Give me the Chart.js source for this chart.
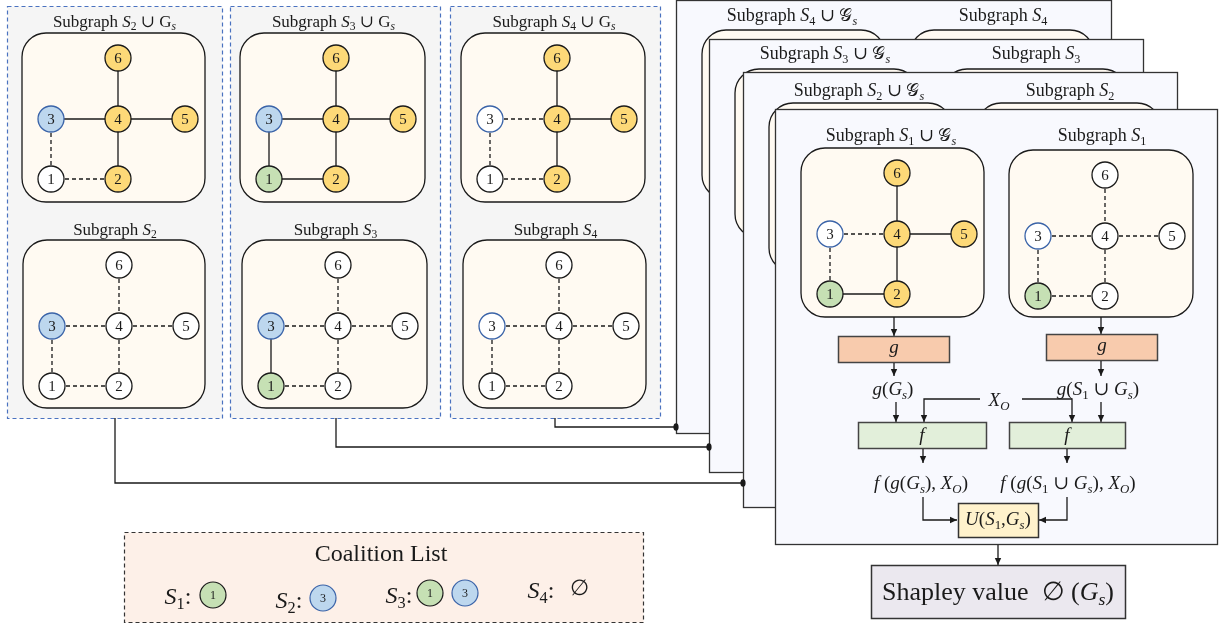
<!DOCTYPE html>
<html>
<head>
<meta charset="utf-8">
<script src="https://cdn.jsdelivr.net/npm/chart.js@4.4.1/dist/chart.umd.min.js"></script>
<style>
  html, body { margin: 0; padding: 0; background: #fff; }
  canvas { display: block; }
</style>
</head>
<body>
<canvas id="diagram" width="1222" height="628"></canvas>
<script>
// ---- graph data ----
const nodeIds = [1, 2, 3, 4, 5, 6];
const edgeList = [[6, 4], [3, 4], [4, 5], [4, 2], [3, 1], [1, 2]];
const explanationNodes = [2, 4, 5, 6];          // G_s
const coalitionNames = ["1", "2", "3", "4"];    // S_1 .. S_4
const coalitionMembers = [[1], [3], [1, 3], []];
const panelCoalitions = [1, 2, 3];              // left panels: S2, S3, S4
const frameCoalitions = [3, 2, 1, 0];           // stacked frames, back to front

// ---- layout / style ----
const W = 1222, H = 628;
const INK = "#1a1a1a";
const YELLOW = "#fdd978";
const WHITE = "#ffffff";
const BLUE_EDGE = "#3a63a8";
const MEMBER_FILL = { 1: "#c6e0b4", 3: "#bdd7ee" };
const BOX_FILL = "#fffaf2";
const SERIF = "'Liberation Serif', 'DejaVu Serif', serif";

// node offsets inside a rounded graph box
const NODE_POS = { 6: [96, 25], 3: [29, 86], 4: [96, 86], 5: [163, 86], 1: [29, 146], 2: [96, 146] };

const panels = [
  { x: 7, y: 6, w: 215, h: 412, up: [22, 33, 183, 169], low: [23, 240, 182, 168] },
  { x: 230, y: 6, w: 210, h: 412, up: [240, 33, 185, 169], low: [242, 240, 185, 168] },
  { x: 450, y: 6, w: 210, h: 412, up: [461, 33, 184, 169], low: [463, 240, 183, 168] }
];
const frames = [
  { x: 676, y: 0, w: 435, h: 433, ty: 15, by: 30 },
  { x: 709, y: 39, w: 434, h: 433, ty: 14, by: 30 },
  { x: 743, y: 72, w: 434, h: 435, ty: 18, by: 31 },
  { x: 775, y: 109, w: 442, h: 435, ty: 26, by: 39 }
];

// which graph boxes get drawn with nodes
const graphs = [];
panels.forEach((p, i) => {
  const c = panelCoalitions[i];
  graphs.push({ c, gs: true, box: p.up, ty: 21, script: false });
  graphs.push({ c, gs: false, box: p.low, ty: 229, script: false });
});
const front = frames[3];
graphs.push({ c: frameCoalitions[3], gs: true, box: [front.x + 26, front.y + 39, 183, 169], ty: front.y + 26, script: true });
graphs.push({ c: frameCoalitions[3], gs: false, box: [front.x + 234, front.y + 41, 184, 167], ty: front.y + 26, script: true });

function titleParts(c, gs, script) {
  const parts = [["Subgraph ", "r"], ["S", "i"], [coalitionNames[c], "rs"]];
  if (gs) {
    parts.push([" \u222A ", "r"]);
    parts.push(script ? ["\uD835\uDCA2", "r"] : ["G", "r"]);
    parts.push(["s", "is"]);
  }
  return parts;
}

// ---- datasets ----
const datasets = [];
graphs.forEach(g => {
  const members = coalitionMembers[g.c];
  const inSet = n => members.includes(n) || (g.gs && explanationNodes.includes(n));
  const pos = n => ({ x: g.box[0] + NODE_POS[n][0], y: g.box[1] + NODE_POS[n][1] });
  edgeList.forEach(([a, b]) => {
    const solid = inSet(a) && inSet(b);
    datasets.push({
      type: "line", data: [pos(a), pos(b)], borderColor: INK, borderWidth: 1.3,
      borderDash: solid ? [] : [4, 3], pointRadius: 0, showLine: true, fill: false, clip: false, order: 2
    });
  });
  datasets.push({
    type: "scatter", data: nodeIds.map(pos), labels: nodeIds.map(String), labelSize: 15,
    pointRadius: 13, pointHoverRadius: 13, pointBorderWidth: 1.3,
    pointBackgroundColor: nodeIds.map(n => members.includes(n) ? MEMBER_FILL[n] : (g.gs && explanationNodes.includes(n) ? YELLOW : WHITE)),
    pointBorderColor: nodeIds.map(n => n === 3 ? BLUE_EDGE : INK),
    clip: false, order: 1
  });
});

// coalition list chips
const coalitionLabelPos = [[178, 596], [289, 600], [399, 595], [541, 590]];
const coalitionChipPos = [[[213, 595]], [[323, 598]], [[430, 593], [465, 593]], []];
const chipPts = [], chipLabels = [], chipFill = [], chipBorder = [];
coalitionMembers.forEach((m, i) => m.forEach((n, k) => {
  chipPts.push({ x: coalitionChipPos[i][k][0], y: coalitionChipPos[i][k][1] });
  chipLabels.push(String(n));
  chipFill.push(MEMBER_FILL[n]);
  chipBorder.push(n === 3 ? BLUE_EDGE : INK);
}));
datasets.push({
  type: "scatter", data: chipPts, labels: chipLabels, labelSize: 12,
  pointRadius: 13, pointHoverRadius: 13, pointBorderWidth: 1.2,
  pointBackgroundColor: chipFill, pointBorderColor: chipBorder, clip: false, order: 1
});

// ---- drawing helpers ----
function richText(ctx, parts, cx, cy, size, align) {
  const fontFor = st => {
    const sub = st.length > 1;
    const sz = sub ? size * 0.68 : size;
    return (st[0] === "i" ? "italic " : "") + sz.toFixed(1) + "px " + SERIF;
  };
  let total = 0;
  const widths = parts.map(([t, st]) => {
    ctx.font = fontFor(st);
    const w = ctx.measureText(t).width;
    total += w;
    return w;
  });
  let x = align === "left" ? cx : cx - total / 2;
  const base = cy + size * 0.33;
  ctx.textAlign = "left";
  ctx.textBaseline = "alphabetic";
  ctx.fillStyle = INK;
  parts.forEach(([t, st], i) => {
    ctx.font = fontFor(st);
    ctx.fillText(t, x, st.length > 1 ? base + size * 0.2 : base);
    x += widths[i];
  });
}

function roundBox(ctx, x, y, w, h, r, fill, stroke, lw) {
  ctx.beginPath();
  ctx.moveTo(x + r, y);
  ctx.arcTo(x + w, y, x + w, y + h, r);
  ctx.arcTo(x + w, y + h, x, y + h, r);
  ctx.arcTo(x, y + h, x, y, r);
  ctx.arcTo(x, y, x + w, y, r);
  ctx.closePath();
  ctx.fillStyle = fill;
  ctx.fill();
  ctx.lineWidth = lw;
  ctx.strokeStyle = stroke;
  ctx.stroke();
}

function rect(ctx, x, y, w, h, fill, stroke, lw, dash) {
  ctx.setLineDash(dash || []);
  ctx.fillStyle = fill;
  ctx.fillRect(x, y, w, h);
  ctx.lineWidth = lw;
  ctx.strokeStyle = stroke;
  ctx.strokeRect(x, y, w, h);
  ctx.setLineDash([]);
}

function path(ctx, pts, arrow) {
  ctx.strokeStyle = INK;
  ctx.lineWidth = 1.3;
  ctx.beginPath();
  ctx.moveTo(pts[0][0], pts[0][1]);
  for (let i = 1; i < pts.length; i++) ctx.lineTo(pts[i][0], pts[i][1]);
  ctx.stroke();
  if (arrow) {
    const [x1, y1] = pts[pts.length - 2], [x2, y2] = pts[pts.length - 1];
    const a = Math.atan2(y2 - y1, x2 - x1), L = 7, Wd = 3.2;
    ctx.fillStyle = INK;
    ctx.beginPath();
    ctx.moveTo(x2, y2);
    ctx.lineTo(x2 - L * Math.cos(a) + Wd * Math.sin(a), y2 - L * Math.sin(a) - Wd * Math.cos(a));
    ctx.lineTo(x2 - L * Math.cos(a) - Wd * Math.sin(a), y2 - L * Math.sin(a) + Wd * Math.cos(a));
    ctx.closePath();
    ctx.fill();
  }
}

function dot(ctx, x, y) {
  ctx.fillStyle = INK;
  ctx.beginPath();
  ctx.ellipse(x, y, 2.6, 3.8, 0, 0, Math.PI * 2);
  ctx.fill();
}

const diagramPlugin = {
  id: "diagram",
  beforeDatasetsDraw(chart) {
    const ctx = chart.ctx;
    ctx.save();
    ctx.fillStyle = "#fff";
    ctx.fillRect(0, 0, W, H);

    // left panels
    panels.forEach(p => rect(ctx, p.x + 0.5, p.y + 0.5, p.w, p.h, "#f5f5f5", "#4a72c0", 1.2, [4, 3]));
    graphs.slice(0, 6).forEach(g => {
      roundBox(ctx, g.box[0], g.box[1], g.box[2], g.box[3], 24, BOX_FILL, INK, 1.3);
      richText(ctx, titleParts(g.c, g.gs, g.script), g.box[0] + g.box[2] / 2 + 1, g.ty, 17);
    });

    // stacked frames
    frames.forEach((f, i) => {
      rect(ctx, f.x + 0.5, f.y + 0.5, f.w, f.h, "#f8f9fe", "#333", 1.3);
      const c = frameCoalitions[i];
      if (i < 3) {
        roundBox(ctx, f.x + 26, f.y + f.by, 183, 169, 24, BOX_FILL, INK, 1.3);
        roundBox(ctx, f.x + 234, f.y + f.by, 184, 169, 24, BOX_FILL, INK, 1.3);
      }
      richText(ctx, titleParts(c, true, true), f.x + 116, f.y + f.ty, 18);
      richText(ctx, titleParts(c, false, true), f.x + 327, f.y + f.ty, 18);
    });
    graphs.slice(6).forEach(g => roundBox(ctx, g.box[0], g.box[1], g.box[2], g.box[3], 24, BOX_FILL, INK, 1.3));

    // connectors from left panels to frames
    path(ctx, [[115, 418], [115, 483], [743, 483]]); dot(ctx, 743, 483);
    path(ctx, [[336, 418], [336, 447], [709, 447]]); dot(ctx, 709, 447);
    path(ctx, [[555, 418], [555, 427], [676, 427]]); dot(ctx, 676, 427);

    // front frame pipeline
    path(ctx, [[894, 317], [894, 336]], true);
    path(ctx, [[1101, 317], [1101, 334]], true);
    rect(ctx, 838.5, 336.5, 111, 26, "#f8cbad", "#444", 1.5);
    rect(ctx, 1046.5, 334.5, 111, 26, "#f8cbad", "#444", 1.5);
    richText(ctx, [["g", "i"]], 894, 347, 19);
    richText(ctx, [["g", "i"]], 1102, 345, 19);
    path(ctx, [[894, 363], [894, 376]], true);
    path(ctx, [[1101, 361], [1101, 376]], true);
    richText(ctx, [["g", "i"], ["(", "r"], ["G", "i"], ["s", "is"], [")", "r"]], 893, 389, 19);
    richText(ctx, [["g", "i"], ["(", "r"], ["S", "i"], ["1", "rs"], [" \u222A ", "r"], ["G", "i"], ["s", "is"], [")", "r"]], 1098, 389, 19);
    richText(ctx, [["X", "i"], ["O", "is"]], 999, 400, 19);
    path(ctx, [[980, 399], [924, 399], [924, 422]], true);
    path(ctx, [[1022, 399], [1072, 399], [1072, 422]], true);
    path(ctx, [[896, 402], [896, 422]], true);
    path(ctx, [[1101, 402], [1101, 422]], true);
    rect(ctx, 858.5, 422.5, 128, 26, "#e2efda", "#444", 1.5);
    rect(ctx, 1009.5, 422.5, 116, 26, "#e2efda", "#444", 1.5);
    richText(ctx, [["f", "i"]], 922, 435, 19);
    richText(ctx, [["f", "i"]], 1067, 435, 19);
    path(ctx, [[923, 449], [923, 463]], true);
    path(ctx, [[1067, 449], [1067, 463]], true);
    richText(ctx, [["f", "i"], [" (", "r"], ["g", "i"], ["(", "r"], ["G", "i"], ["s", "is"], ["), ", "r"], ["X", "i"], ["O", "is"], [")", "r"]], 921, 483, 19);
    richText(ctx, [["f", "i"], [" (", "r"], ["g", "i"], ["(", "r"], ["S", "i"], ["1", "rs"], [" \u222A ", "r"], ["G", "i"], ["s", "is"], ["), ", "r"], ["X", "i"], ["O", "is"], [")", "r"]], 1068, 483, 19);
    path(ctx, [[923, 497], [923, 520], [957, 520]], true);
    path(ctx, [[1067, 497], [1067, 520], [1039, 520]], true);
    rect(ctx, 958.5, 503.5, 80, 34, "#fff2cc", "#333", 1.5);
    richText(ctx, [["U", "i"], ["(", "r"], ["S", "i"], ["1", "rs"], [",", "r"], ["G", "i"], ["s", "is"], [")", "r"]], 998, 519, 19);

    // result
    path(ctx, [[998, 545], [998, 565]], true);
    rect(ctx, 871.5, 565.5, 254, 53, "#ebe8ef", "#333", 1.5);
    richText(ctx, [["Shapley value  \u2205 (", "r"], ["G", "i"], ["s", "is"], [")", "r"]], 998, 591, 26);

    // coalition list
    rect(ctx, 124.5, 532.5, 519, 90, "#fdf0e8", "#333", 1.2, [4, 3]);
    richText(ctx, [["Coalition List", "r"]], 381, 553, 24);
    coalitionLabelPos.forEach(([x, y], i) => richText(ctx, [["S", "i"], [coalitionNames[i], "rs"], [":", "r"]], x, y, 24));
    richText(ctx, [["\u2205", "r"]], 579, 588, 22);
    ctx.restore();
  },
  afterDatasetsDraw(chart) {
    const ctx = chart.ctx;
    ctx.save();
    ctx.fillStyle = INK;
    ctx.textAlign = "center";
    ctx.textBaseline = "middle";
    chart.data.datasets.forEach((ds, i) => {
      if (!ds.labels) return;
      ctx.font = ds.labelSize + "px " + SERIF;
      chart.getDatasetMeta(i).data.forEach((el, k) => ctx.fillText(ds.labels[k], el.x, el.y + 1));
    });
    ctx.restore();
  }
};

new Chart(document.getElementById("diagram"), {
  type: "scatter",
  data: { datasets },
  options: {
    responsive: false,
    animation: false,
    devicePixelRatio: 1,
    events: [],
    layout: { padding: 0, autoPadding: false },
    plugins: { legend: { display: false }, tooltip: { enabled: false } },
    scales: {
      x: { type: "linear", min: 0, max: W, display: false },
      y: { type: "linear", min: 0, max: H, reverse: true, display: false }
    }
  },
  plugins: [diagramPlugin]
});
</script>
</body>
</html>
